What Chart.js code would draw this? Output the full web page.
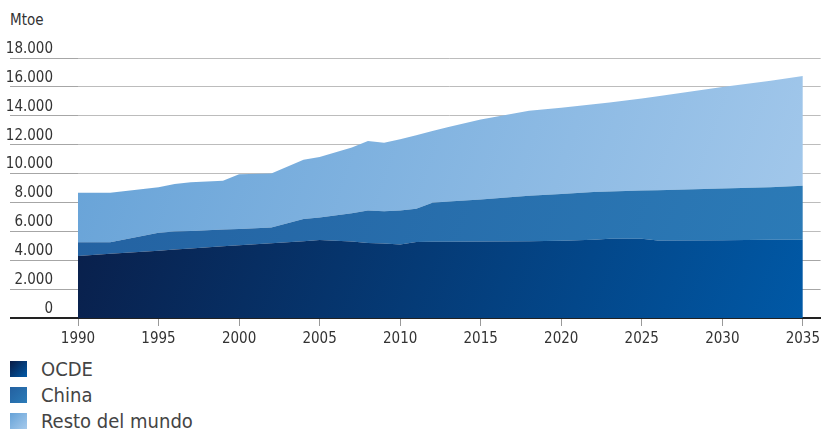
<!DOCTYPE html>
<html>
<head>
<meta charset="utf-8">
<script src="https://cdn.jsdelivr.net/npm/chart.js@4.4.1/dist/chart.umd.min.js"></script>
<style>
    html, body { margin: 0; padding: 0; background: #fff; }
    body { width: 824px; height: 432px; position: relative; overflow: hidden;
        font-family: 'DejaVu Sans Condensed', sans-serif; color: #333; }
    #chartDiv { position: absolute; left: 0; top: 0; width: 824px; height: 352px; }
    #unit { position: absolute; left: 10px; top: 11px; font-size: 15px; color: #333; }
    #legend { position: absolute; left: 10px; top: 356px; }
    .item { height: 26px; display: flex; align-items: center; font-size: 20px; color: #444; }
    .swatch { width: 17px; height: 16px; margin-right: 14px; }
</style>
</head>
<body>
<div id="unit">Mtoe</div>
<div id="chartDiv"><canvas id="my-chart"></canvas></div>
<div id="legend"></div>
<script>
// years where the curves bend
const years = [1990, 1992, 1995, 1996, 1997, 1999, 2000, 2002, 2004, 2005, 2007, 2008, 2009, 2010,
    2011, 2012, 2013, 2015, 2018, 2020, 2022, 2023, 2025, 2026, 2030, 2033, 2035];

// Mtoe, stacked bottom to top
const ocde = [4290, 4440, 4660, 4740, 4810, 4960, 5030, 5180, 5310, 5400, 5300, 5200, 5150, 5080,
    5270, 5280, 5280, 5290, 5320, 5350, 5420, 5480, 5490, 5370, 5390, 5410, 5420];
const china = [950, 800, 1240, 1240, 1210, 1160, 1130, 1090, 1540, 1550, 1950, 2250, 2240, 2370,
    2290, 2700, 2780, 2910, 3140, 3230, 3310, 3280, 3330, 3480, 3570, 3650, 3740];
const resto = [3430, 3430, 3150, 3290, 3370, 3380, 3800, 3740, 4100, 4200, 4550, 4800, 4740, 4930,
    5090, 4970, 5160, 5550, 5890, 5980, 6070, 6160, 6380, 6500, 7030, 7360, 7590];

const seriesNames = ['OCDE', 'China', 'Resto del mundo'];
const xTicks = [1990, 1995, 2000, 2005, 2010, 2015, 2020, 2025, 2030, 2035];
const yTicks = [0, 2000, 4000, 6000, 8000, 10000, 12000, 14000, 16000, 18000];

// gradient stops: top-left colour, bottom-right colour
const shades = [['#0a1b44', '#005aa8'], ['#2360a0', '#2c7cb8'], ['#66a2d7', '#a6caec']];

const font = "'DejaVu Sans Condensed', sans-serif";

function fillFor(i) {
    return (ctx) => {
        const area = ctx.chart.chartArea;
        if (!area) return shades[i][1];
        const g = ctx.chart.ctx.createLinearGradient(area.left, area.top, area.right, area.bottom);
        g.addColorStop(0, shades[i][0]);
        g.addColorStop(1, shades[i][1]);
        return g;
    };
}

const toPoints = (vals) => years.map((y, i) => ({ x: y, y: vals[i] }));
const fmt = (v) => v === 0 ? '0' : v.toLocaleString('de-DE');

window.onload = () => {
    // html legend
    const legend = document.getElementById('legend');
    seriesNames.forEach((name, i) => {
        const row = document.createElement('div');
        row.className = 'item';
        row.innerHTML = `<span class="swatch" style="background:linear-gradient(135deg, ${shades[i][0]}, ${shades[i][1]})"></span>${name}`;
        legend.appendChild(row);
    });

    const canvas = document.getElementById('my-chart').getContext('2d');
    new Chart(canvas, {
        type: 'line',
        data: {
            datasets: [ocde, china, resto].map((vals, i) => ({
                label: seriesNames[i],
                data: toPoints(vals),
                backgroundColor: fillFor(i),
                borderWidth: 0,
                pointRadius: 0,
                tension: 0,
                fill: i === 0 ? 'origin' : '-1'
            }))
        },
        options: {
            responsive: true,
            maintainAspectRatio: false,
            animation: false,
            layout: { padding: { left: 0, top: 58, right: 0, bottom: 0 } },
            plugins: { legend: { display: false }, tooltip: { enabled: false } },
            scales: {
                x: {
                    type: 'linear',
                    min: 1990,
                    max: 2036.1,
                    afterBuildTicks: (s) => { s.ticks = xTicks.map(v => ({ value: v })); },
                    afterFit: (s) => { s.height = 34; },
                    grid: { drawOnChartArea: false, tickLength: 8, color: '#999' },
                    border: { color: '#222', width: 2 },
                    ticks: { padding: 4, color: '#333', maxRotation: 0, autoSkip: false,
                        font: { family: font, size: 15 }, callback: (v) => String(v) }
                },
                y: {
                    stacked: true,
                    min: 0,
                    max: 18000,
                    afterBuildTicks: (s) => { s.ticks = yTicks.map(v => ({ value: v })); },
                    afterFit: (s) => { s.width = 78; },
                    grid: {
                        tickLength: 68,
                        color: (c) => c.tick && c.tick.value === 0 ? '#222' : '#a6a6a6',
                        lineWidth: (c) => c.tick && c.tick.value === 0 ? 2 : 1
                    },
                    border: { display: false },
                    ticks: { padding: -43, labelOffset: -9, color: '#333',
                        font: { family: font, size: 15 }, callback: fmt }
                },
                // faint lines over the lighter bands
                yOver: {
                    position: 'left',
                    display: true,
                    z: 1,
                    min: 0,
                    max: 18000,
                    afterBuildTicks: (s) => { s.ticks = yTicks.map(v => ({ value: v })); },
                    afterFit: (s) => { s.width = 0; },
                    grid: {
                        drawTicks: false,
                        color: (c) => c.tick && c.tick.value >= 6000 ? 'rgba(255,255,255,0.25)' : 'rgba(0,0,0,0)'
                    },
                    border: { display: false },
                    ticks: { display: false }
                }
            }
        }
    });
};
</script>
</body>
</html>
